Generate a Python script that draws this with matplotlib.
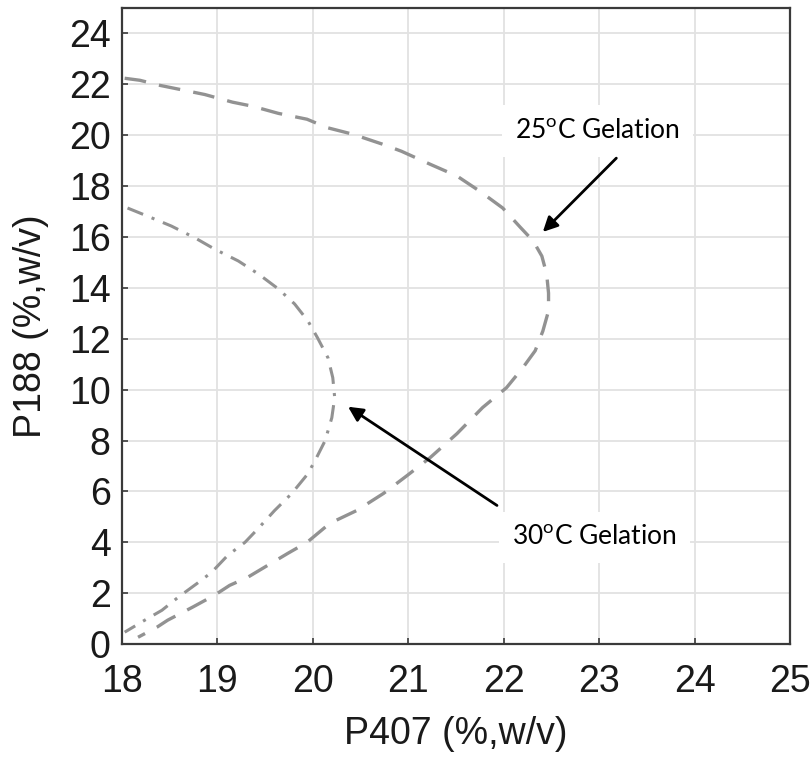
import matplotlib
matplotlib.use("Agg")
import matplotlib.pyplot as plt

# 25 °C gelation boundary (dashed)
x25 = [18.03, 18.19, 18.40, 18.61, 18.87, 19.16, 19.37, 19.64, 19.94, 20.15, 20.42, 20.73, 20.93,
       21.23, 21.51, 21.75, 21.99, 22.17, 22.31, 22.40, 22.45, 22.47, 22.47, 22.41, 22.33, 22.20,
       22.03, 21.78, 21.51, 21.23, 20.99, 20.74, 20.46, 20.18, 19.94, 19.74, 19.53, 19.32, 19.13,
       18.97, 18.74, 18.48, 18.37, 18.17]
y25 = [22.24, 22.16, 21.96, 21.80, 21.60, 21.30, 21.14, 20.86, 20.63, 20.30, 20.04, 19.65, 19.37,
       18.86, 18.40, 17.80, 17.14, 16.40, 15.84, 15.25, 14.55, 13.80, 13.10, 12.30, 11.53, 10.86,
       10.08, 9.30, 8.27, 7.33, 6.63, 5.92, 5.25, 4.75, 4.00, 3.57, 3.10, 2.63, 2.31,
       1.92, 1.45, 0.94, 0.67, 0.27]

# 30 °C gelation boundary (dash-dot)
x30 = [18.06, 18.27, 18.52, 18.77, 18.97, 19.22, 19.43, 19.64, 19.81, 19.95, 20.05, 20.16, 20.21,
       20.23, 20.20, 20.13, 20.04, 19.95, 19.78, 19.60, 19.43, 19.29, 19.11, 18.94, 18.79, 18.59,
       18.42, 18.24, 18.03]
y30 = [17.14, 16.82, 16.43, 15.96, 15.53, 15.06, 14.55, 13.96, 13.37, 12.70, 12.04, 11.25, 10.47,
       9.69, 8.90, 8.00, 7.33, 6.70, 5.92, 5.25, 4.55, 4.00, 3.49, 2.82, 2.39, 1.84,
       1.33, 0.94, 0.47]

xticks = [18, 19, 20, 21, 22, 23, 24, 25]
yticks = list(range(0, 25, 2))

label25 = "25$^{\\mathrm{o}}$C Gelation"
label30 = "30$^{\\mathrm{o}}$C Gelation"

plt.rcParams['mathtext.fontset'] = 'custom'
plt.rcParams['mathtext.rm'] = 'Lato'

fig = plt.figure(figsize=(8.12, 7.65), dpi=100)
ax = fig.add_axes([0.150, 0.158, 0.823, 0.8315])

ax.plot(x25, y25, color='#929292', lw=2.4, dashes=(6.5, 4))
ax.plot(x30, y30, color='#929292', lw=2.2, dashes=(5.5, 3, 1, 3))

ax.set_xlim(18, 25)
ax.set_ylim(0, 25)
ax.set_xticks(xticks)
ax.set_yticks(yticks)
ax.grid(True, color='#e2e2e2', lw=1.3)
ax.set_axisbelow(True)
for s in ax.spines.values():
    s.set_color('#3a3a3a')
    s.set_linewidth(1.6)
ax.tick_params(direction='in', length=4, width=1.2, color='#3a3a3a',
               labelsize=27)
ax.tick_params(axis='x', pad=14)
ax.tick_params(axis='y', pad=8)
for lab in ax.get_xticklabels() + ax.get_yticklabels():
    lab.set_fontfamily('Liberation Sans')
    lab.set_color('#1a1a1a')

ax.set_xlabel("P407 (%,w/v)", fontsize=27, family='Liberation Sans', color='#1a1a1a', labelpad=12)
ax.set_ylabel("P188 (%,w/v)", fontsize=27, family='Liberation Sans', color='#1a1a1a', labelpad=14)

ax.text(22.98, 20.16, label25, ha='center', va='center', fontsize=19, family='Lato',
        bbox=dict(boxstyle='square,pad=0.5', fc='white', ec='none'), zorder=4)
ax.text(22.95, 4.2, label30, ha='center', va='center', fontsize=19, family='Lato',
        bbox=dict(boxstyle='square,pad=0.5', fc='white', ec='none'), zorder=4)

arrow = dict(arrowstyle='-|>', color='black', lw=2, mutation_scale=22, shrinkA=0, shrinkB=0)
ax.annotate('', xy=(22.41, 16.2), xytext=(23.18, 19.1), arrowprops=arrow, zorder=5)
ax.annotate('', xy=(20.37, 9.33), xytext=(21.93, 5.45), arrowprops=arrow, zorder=5)

fig.savefig("out.png", dpi=100)
